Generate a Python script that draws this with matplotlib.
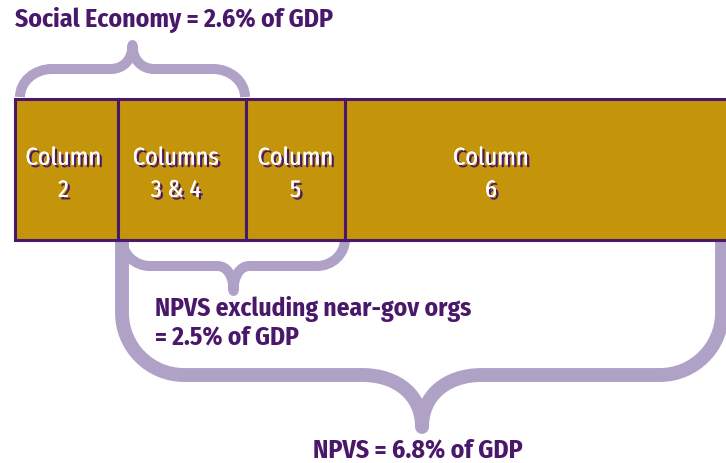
import matplotlib.pyplot as plt
import matplotlib.patheffects as pe
from matplotlib.path import Path
from matplotlib.patches import PathPatch, Rectangle

# segments of the bar (pixel-like units, left to right)
segment_labels = ["Column\n2", "Columns\n3 & 4", "Column\n5", "Column\n6"]
segment_widths = [103, 128, 99, 385]
bar_start = 15

# braces: first segment, last segment, caption
brace_spans = [(0, 1), (1, 2), (1, 3)]
brace_texts = ["Social Economy = 2.6% of GDP",
               "NPVS excluding near-gov orgs\n= 2.5% of GDP",
               "NPVS = 6.8% of GDP"]

gold = "#c4950a"
purple = "#4a186b"
lilac = "#b0a1c7"
font = ["Fira Sans Condensed", "PT Sans Narrow", "Barlow Semi Condensed", "DejaVu Sans"]

fig = plt.figure(figsize=(7.26, 4.64), dpi=100)
ax = fig.add_axes([0, 0, 1, 1])
ax.set_xlim(0, 726)
ax.set_ylim(464, 0)
ax.axis("off")

# bar segments
edges = [bar_start]
for w in segment_widths:
    edges.append(edges[-1] + w)

bar_top, bar_h = 100, 141
for i, w in enumerate(segment_widths):
    ax.add_patch(Rectangle((edges[i], bar_top), w, bar_h, facecolor=gold,
                           edgecolor=purple, linewidth=2.2, zorder=3))

label_x = [edges[0] + segment_widths[0] / 2 - 3,
           edges[1] + segment_widths[1] / 2 - 6,
           edges[2] + segment_widths[2] / 2,
           edges[3] + 146]
shadow = [pe.withSimplePatchShadow(offset=(1.8, -1.8), shadow_rgbFace=purple, alpha=1),
          pe.Normal()]
for x, lab in zip(label_x, segment_labels):
    ax.text(x, 175, lab, ha="center", va="center", color="white", fontsize=17.5,
            family=font, linespacing=1.5, zorder=5, path_effects=shadow)


def brace(xl, xr, y_base, y_mid, y_tip, r_end, r_tip, lw):
    s = 1 if y_mid > y_base else -1
    xc = (xl + xr) / 2
    rv = min(r_end, abs(y_mid - y_base))
    verts = [(xl, y_base), (xl, y_mid - s * rv),
             (xl, y_mid - s * rv * 0.45), (xl + r_end * 0.45, y_mid), (xl + r_end, y_mid),
             (xc - r_tip, y_mid),
             (xc - r_tip * 0.4, y_mid), (xc, y_mid + (y_tip - y_mid) * 0.4), (xc, y_tip),
             (xc, y_mid + (y_tip - y_mid) * 0.4), (xc + r_tip * 0.4, y_mid), (xc + r_tip, y_mid),
             (xr - r_end, y_mid),
             (xr - r_end * 0.45, y_mid), (xr, y_mid - s * rv * 0.45), (xr, y_mid - s * rv),
             (xr, y_base)]
    codes = [Path.MOVETO, Path.LINETO,
             Path.CURVE4, Path.CURVE4, Path.CURVE4,
             Path.LINETO,
             Path.CURVE4, Path.CURVE4, Path.CURVE4,
             Path.CURVE4, Path.CURVE4, Path.CURVE4,
             Path.LINETO,
             Path.CURVE4, Path.CURVE4, Path.CURVE4,
             Path.LINETO]
    ax.add_patch(PathPatch(Path(verts, codes), facecolor="none", edgecolor=lilac,
                           linewidth=lw, capstyle="butt", joinstyle="round", zorder=2))


# top brace over Social Economy
a, b = brace_spans[0]
brace(edges[a] + 5, edges[b + 1] - 1, 98, 70, 46, 32, 22, 7.2)
ax.text(15, 20, brace_texts[0], ha="left", va="center", color=purple,
        fontsize=18.5, fontweight="bold", family=font)

# brace under NPVS excluding near-gov
a, b = brace_spans[1]
brace(edges[a] + 4, edges[b + 1], 240, 267, 292, 28, 16, 7.2)
ax.text(155, 323, brace_texts[1], ha="left", va="center", color=purple,
        fontsize=18.3, fontweight="bold", family=font, linespacing=1.12)

# big brace under NPVS
a, b = brace_spans[2]
brace(edges[a] + 4, edges[b + 1] - 8, 240, 376, 428, 62, 60, 10)
ax.text(313, 450, brace_texts[2], ha="left", va="center", color=purple,
        fontsize=18.5, fontweight="bold", family=font)

fig.savefig("out.png", dpi=100)
